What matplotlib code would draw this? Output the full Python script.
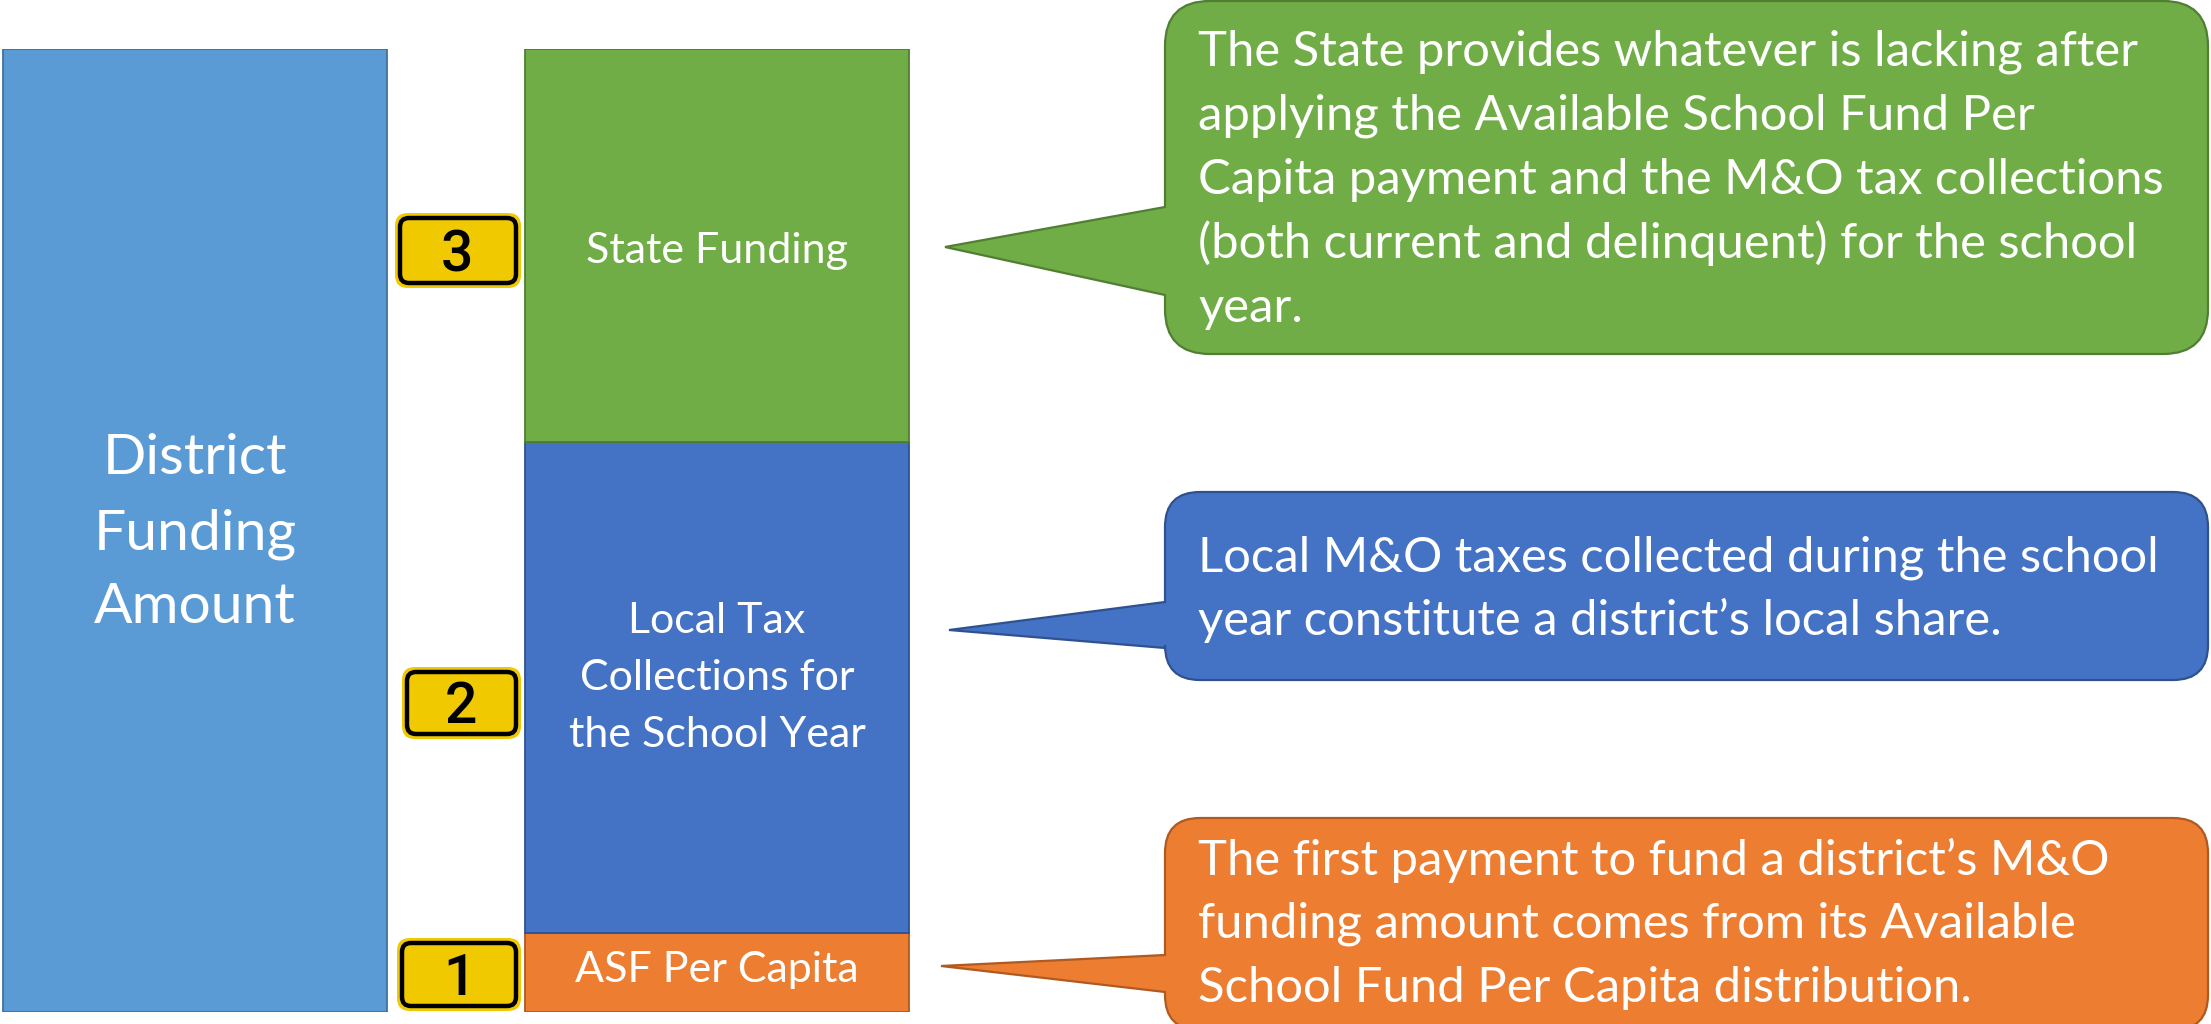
import matplotlib
matplotlib.use("Agg")
import matplotlib.pyplot as plt
from matplotlib.patches import FancyBboxPatch, PathPatch
from matplotlib.path import Path

# ---------------- data ----------------
total_label = ["District", "Funding", "Amount"]
segment_labels = [["ASF Per Capita"],
                  ["Local Tax", "Collections for", "the School Year"],
                  ["State Funding"]]
segment_values = [8.2, 51.0, 40.8]
step_numbers = ["1", "2", "3"]
callout_texts = [
    ["The first payment to fund a district\u2019s M&O",
     "funding amount comes from its Available",
     "School Fund Per Capita distribution."],
    ["Local M&O taxes collected during the school",
     "year constitute a district\u2019s local share."],
    ["The State provides whatever is lacking after",
     "applying the Available School Fund Per",
     "Capita payment and the M&O tax collections",
     "(both current and delinquent) for the school",
     "year."],
]

# ---------------- styles / layout ----------------
W, H = 2211, 1024
seg_colors = ["#ED7D31", "#4472C4", "#70AD47"]
seg_edges = ["#AE5A21", "#2F528F", "#507E32"]
total_color, total_edge = "#5B9BD5", "#41719C"
badge_yellow = "#F0C900"
FONT = ["Lato", "DejaVu Sans"]
DIGIT_FONT = ["Roboto", "DejaVu Sans"]

fig = plt.figure(figsize=(W / 100, H / 100), dpi=100)
fig.patch.set_facecolor("white")

bar_top_px, bar_bot_px = 49, 1012
ax = fig.add_axes([0, (H - bar_bot_px) / H, 1, (bar_bot_px - bar_top_px) / H])
total = sum(segment_values)
ax.set_xlim(0, W)
ax.set_ylim(0, total)
ax.axis("off")

# total bar
ax.bar([195], [total], width=384, color=total_color, edgecolor=total_edge, linewidth=1.3)
# stacked bar
bottom = 0
for v, c, ec in zip(segment_values, seg_colors, seg_edges):
    ax.bar([717], [v], bottom=bottom, width=384, color=c, edgecolor=ec, linewidth=1.3)
    bottom += v

# overlay in pixel coordinates
ov = fig.add_axes([0, 0, 1, 1])
ov.set_xlim(0, W)
ov.set_ylim(H, 0)
ov.axis("off")
ov.patch.set_visible(False)

def lines(x, baselines, txts, size, color="white", ha="center", family=FONT, weight="normal"):
    for yb, t in zip(baselines, txts):
        ov.text(x, yb, t, ha=ha, va="baseline", fontsize=size, color=color,
                family=family, fontweight=weight)

# bar labels
lines(195, [474, 549, 623], total_label, 41)
label_baselines = [[982], [633, 690, 747], [263]]
for lab, bl in zip(segment_labels, label_baselines):
    lines(717, bl, lab, 31)

# badges
badge_outer = [(397, 938, 521, 1011), (402, 667, 521, 739), (395, 213, 521, 288)]
digit_pos = [(460, 995), (461, 723), (457, 272)]
for (x0, y0, x1, y1), (dx, dy), num in zip(badge_outer, digit_pos, step_numbers):
    rim = FancyBboxPatch((x0, y0), x1 - x0, y1 - y0,
                         boxstyle="round,pad=0,rounding_size=13",
                         facecolor=badge_yellow, edgecolor="none")
    ov.add_patch(rim)
    inner = FancyBboxPatch((x0 + 5, y0 + 5), x1 - x0 - 10, y1 - y0 - 10,
                           boxstyle="round,pad=0,rounding_size=9",
                           facecolor=badge_yellow, edgecolor="black", linewidth=3.2)
    ov.add_patch(inner)
    ov.text(dx, dy, num, ha="center", va="baseline", fontsize=41, color="black",
            family=DIGIT_FONT, fontweight="medium")

# callouts
def callout_path(x0, y0, x1, y1, r, b1, b2, tx, ty):
    verts = [(x0 + r, y0), (x1 - r, y0), (x1, y0), (x1, y0 + r),
             (x1, y1 - r), (x1, y1), (x1 - r, y1),
             (x0 + r, y1), (x0, y1), (x0, y1 - r),
             (x0, b2), (tx, ty), (x0, b1),
             (x0, y0 + r), (x0, y0), (x0 + r, y0), (x0 + r, y0)]
    codes = [Path.MOVETO, Path.LINETO, Path.CURVE3, Path.CURVE3,
             Path.LINETO, Path.CURVE3, Path.CURVE3,
             Path.LINETO, Path.CURVE3, Path.CURVE3,
             Path.LINETO, Path.LINETO, Path.LINETO,
             Path.LINETO, Path.CURVE3, Path.CURVE3, Path.CLOSEPOLY]
    return Path(verts, codes)

callout_geom = [
    (1165, 818, 2208, 1030, 35, 955, 992, 941, 966),
    (1165, 492, 2208, 680, 35, 602, 648, 949, 630),
    (1165, 1, 2208, 354, 45, 207, 295, 945, 247),
]
callout_baselines = [[875, 938, 1002], [572, 635], [66, 130, 194, 258, 322]]
for g, c, ec, txt, bl in zip(callout_geom, seg_colors, seg_edges, callout_texts, callout_baselines):
    ov.add_patch(PathPatch(callout_path(*g), facecolor=c, edgecolor=ec, linewidth=1.6))
    lines(1198, bl, txt, 35.3, ha="left")

fig.savefig("out.png", dpi=100)
